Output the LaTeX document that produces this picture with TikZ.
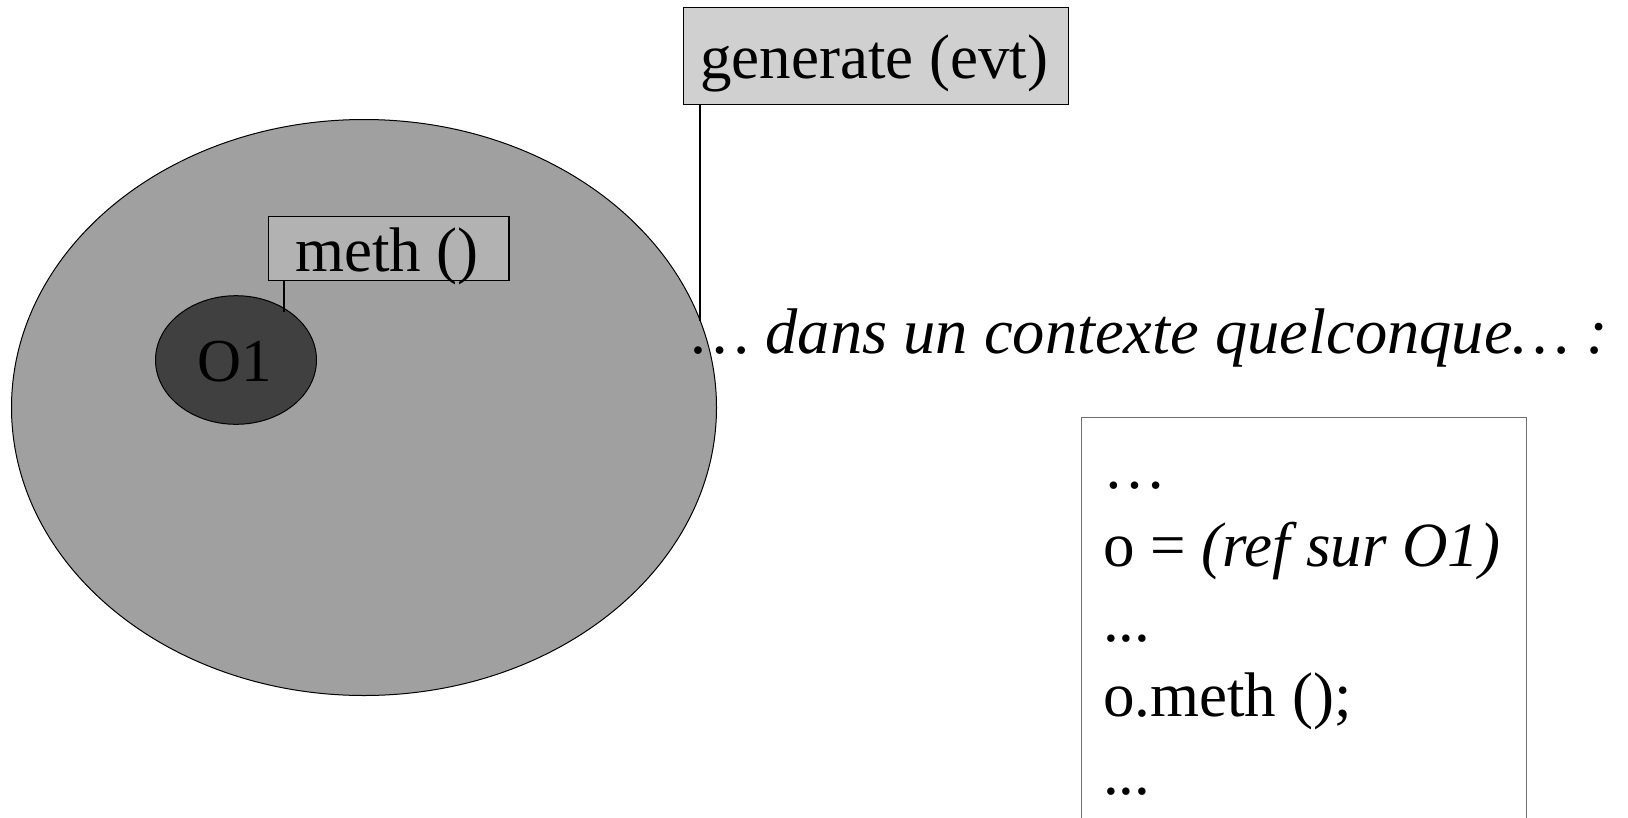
\documentclass[tikz,border=0pt]{standalone}
\usepackage{fontspec}
\setmainfont{Liberation Serif}
\usetikzlibrary{shapes.geometric}
\definecolor{envgray}{RGB}{160,160,160}
\definecolor{objgray}{RGB}{64,64,64}
\definecolor{methgray}{RGB}{178,178,178}
\definecolor{gengray}{RGB}{208,208,208}
\definecolor{codeframe}{RGB}{110,110,110}
\tikzset{
  bigtext/.style={font=\fontsize{63}{76}\selectfont, inner sep=0pt},
  labelbox/.style={draw=black, line width=1.3pt, inner sep=0pt, anchor=north west},
  blob/.style={ellipse, draw=black, line width=1pt, inner sep=0pt},
  link/.style={draw=black, line width=1.2pt},
}
\begin{document}
\begin{tikzpicture}[x=1pt,y=-1pt]
\useasboundingbox (0,0) rectangle (1628,817);
\clip (0,0) rectangle (1628,817);
% environment ellipse
\node[blob, fill=envgray, minimum width=705pt, minimum height=576pt] (env) at (364,407.5) {};
% object O1
\node[blob, fill=objgray, minimum width=161pt, minimum height=128.6pt] (o1) at (236,360) {};
\node[bigtext, anchor=base, font=\fontsize{61}{70}\selectfont] (o1t) at (235,381.5) {O1};
% meth box
\node[labelbox, fill=methgray, minimum width=240.6pt, minimum height=64.3pt] (meth) at (267.7,215.7) {};
\node[bigtext, anchor=base west] (metht) at (295,271) {meth ()};
\coordinate (m1) at (284,312);
\draw[link] (meth.south -| m1) -- (m1);
% generate box
\node[labelbox, fill=gengray, minimum width=385pt, minimum height=97pt] (gen) at (683,7) {};
\node[bigtext, anchor=base west] (gent) at (700,78) {generate (evt)};
\coordinate (g1) at (700,321);
\draw[link] (gen.south -| g1) -- (g1);
% context text
\node[bigtext, anchor=base west, font=\fontsize{64.5}{76}\selectfont] (ctx) at (692,353) {\itshape … dans un contexte quelconque… :};
% code box
\node[draw=codeframe, line width=1pt, inner sep=0pt, anchor=north west, minimum width=445pt, minimum height=420pt] (code) at (1081,417) {};
\node[bigtext, anchor=base west] (c1) at (1103,488) {…};
\node[bigtext, anchor=base west] (c2) at (1103,566) {o = \textit{(ref sur O1)}};
\node[bigtext, anchor=base west] (c3) at (1103,641) {...};
\node[bigtext, anchor=base west] (c4) at (1103,716) {o.meth ();};
\node[bigtext, anchor=base west] (c5) at (1103,794) {...};
\end{tikzpicture}
\end{document}
